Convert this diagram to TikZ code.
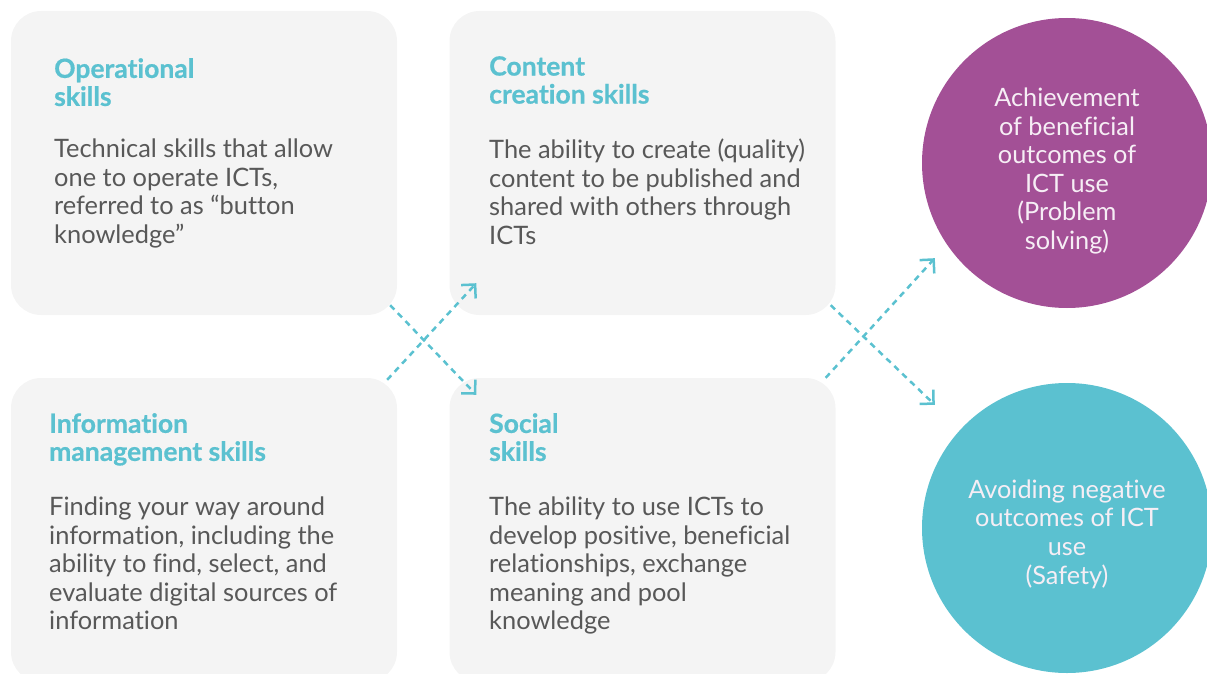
\documentclass[tikz,border=0pt]{standalone}
\usepackage{fontspec}
\setmainfont{Lato}[Ligatures=NoCommon]
\newfontfamily\headfont{Lato}[Ligatures=NoCommon, BoldFeatures={FakeBold=0.6}]
\usetikzlibrary{arrows.meta,positioning}

\definecolor{skillteal}{HTML}{5BC1D0}
\definecolor{outpurple}{HTML}{A35096}
\definecolor{boxgrey}{HTML}{F4F4F4}
\definecolor{bodygrey}{HTML}{585858}
\definecolor{outwhite}{HTML}{F6EEF5}

\tikzset{
    skillbox/.style={rectangle, rounded corners=30pt, fill=boxgrey, minimum width=386pt, minimum height=304pt, inner sep=0pt},
    skilltitle/.style={anchor=north west, inner sep=0pt, align=left, text=skillteal, font=\headfont\fontsize{26.5}{28}\selectfont\bfseries},
    skilltext/.style={anchor=north west, inner sep=0pt, align=left, text=bodygrey, font=\fontsize{25.4}{28.5}\selectfont},
    outcome/.style={circle, minimum size=290pt, inner sep=0pt},
    outtext/.style={align=center, inner sep=0pt, text=outwhite, font=\fontsize{25.3}{28.6}\selectfont},
    link/.style={draw=skillteal, line width=2.5pt, dash pattern=on 6pt off 5pt, -{Straight Barb[angle=90:14pt, line width=2.5pt]}}
}

\begin{document}
\begin{tikzpicture}[x=1pt, y=-1pt]
        \useasboundingbox (0, 0) rectangle (1207, 674);
        \clip (0, 0) rectangle (1207, 674);

        % the four skill boxes
        \node[skillbox] (ops) at (204, 163) {};
        \node[skillbox] (cont) at (642.5, 163) {};
        \node[skillbox] (info) at (204, 530) {};
        \node[skillbox] (soc) at (642.5, 530) {};

        \node[skilltitle] (opsT) at (54, 58) {Operational\\skills};
        \node[skilltext] (opsB) at (54, 139) {Technical skills that allow\\one to operate ICTs,\\referred to as “button\\knowledge”};

        \node[skilltitle] (contT) at (489, 56) {Content\\creation skills};
        \node[skilltext] (contB) at (489, 139) {The ability to create (quality)\\content to be published and\\shared with others through\\ICTs};

        \node[skilltitle] (infoT) at (49, 413) {Information\\management skills};
        \node[skilltext] (infoB) at (49, 497) {Finding your way around\\information, including the\\ability to find, select, and\\evaluate digital sources of\\information};

        \node[skilltitle] (socT) at (489, 413) {Social\\skills};
        \node[skilltext] (socB) at (489, 497) {The ability to use ICTs to\\develop positive, beneficial\\relationships, exchange\\meaning and pool\\knowledge};

        % outcomes
        \node[outcome, fill=outpurple] (ach) at (1067, 163) {};
        \node[outcome, fill=skillteal] (safe) at (1067, 528) {};
        \node[outtext] (achT) at ([shift={(0,8)}]ach.center) {Achievement\\of beneficial\\outcomes of\\ICT use\\(Problem\\solving)};
        \node[outtext] (safeT) at ([shift={(0,6)}]safe.center) {Avoiding negative\\outcomes of ICT\\use\\(Safety)};

        % dotted links
        \draw[link] ([shift={(-7,-10)}]ops.south east) -- ([shift={(27,17)}]soc.north west);
        \draw[link] ([shift={(-10,2)}]info.north east) -- ([shift={(27,-32)}]cont.south west);
        \draw[link] ([shift={(-5,-10)}]cont.south east) -- ([shift={(-29.5,-20.5)}]safe.north west);
        \draw[link] ([shift={(-10,0)}]soc.north east) -- ([shift={(-29.5,-7.5)}]ach.south west);

    \end{tikzpicture}
\end{document}
